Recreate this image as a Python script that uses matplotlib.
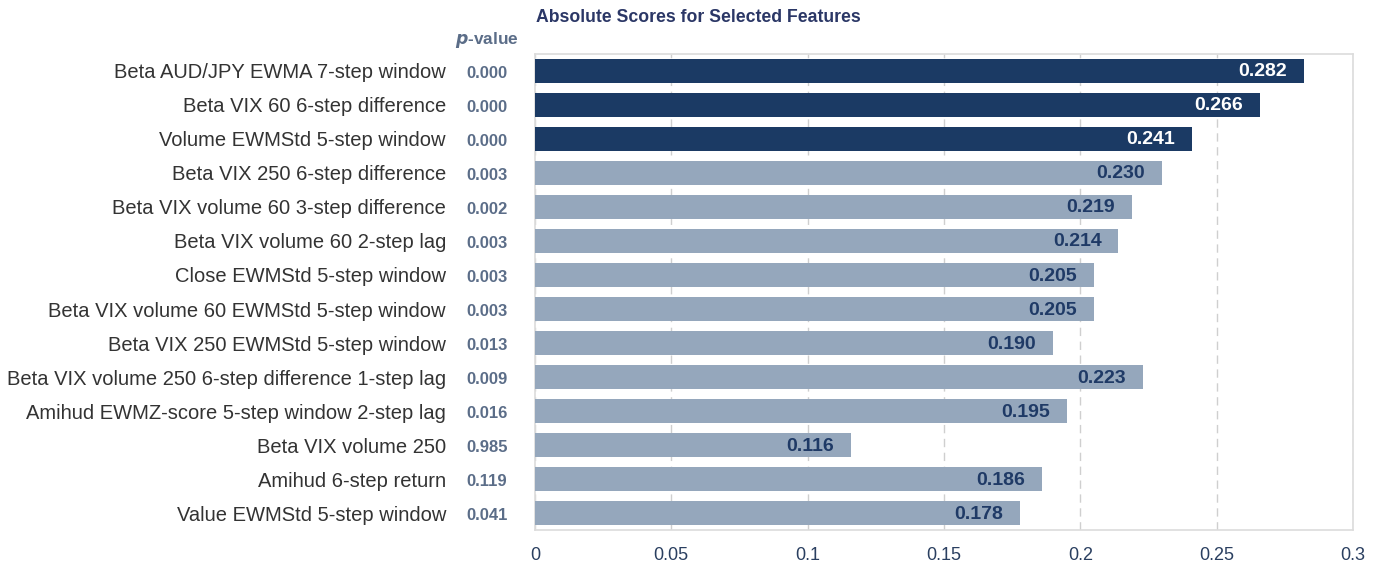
import matplotlib.pyplot as plt

features = [
    "Beta AUD/JPY EWMA 7-step window",
    "Beta VIX 60 6-step difference",
    "Volume EWMStd 5-step window",
    "Beta VIX 250 6-step difference",
    "Beta VIX volume 60 3-step difference",
    "Beta VIX volume 60 2-step lag",
    "Close EWMStd 5-step window",
    "Beta VIX volume 60 EWMStd 5-step window",
    "Beta VIX 250 EWMStd 5-step window",
    "Beta VIX volume 250 6-step difference 1-step lag",
    "Amihud EWMZ-score 5-step window 2-step lag",
    "Beta VIX volume 250",
    "Amihud 6-step return",
    "Value EWMStd 5-step window",
]
scores = [0.282, 0.266, 0.241, 0.230, 0.219, 0.214, 0.205, 0.205, 0.190,
          0.223, 0.195, 0.116, 0.186, 0.178]
pvalues = ["0.000", "0.000", "0.000", "0.003", "0.002", "0.003", "0.003",
           "0.003", "0.013", "0.009", "0.016", "0.985", "0.119", "0.041"]
xticks = [0, 0.05, 0.1, 0.15, 0.2, 0.25, 0.3]
xticklabels = ["0", "0.05", "0.1", "0.15", "0.2", "0.25", "0.3"]

dark = "#1b3a64"
light = "#95a7bc"
n_top = 3

plt.rcParams['font.family'] = ['Liberation Sans', 'DejaVu Sans']

fig = plt.figure(figsize=(13.82, 5.67), dpi=100)
ax = fig.add_axes([0.387, 0.065, 0.592, 0.84])

ypos = list(range(len(features)))
colors = [dark if i < n_top else light for i in ypos]
ax.barh(ypos, scores, height=0.7, color=colors, zorder=3)
ax.set_ylim(len(features) - 0.5, -0.5)
ax.set_xlim(0, 0.3)

for i, v in enumerate(scores):
    ax.text(v - 0.0062, i + 0.03, f"{v:.3f}", ha="right", va="center",
            fontsize=14, fontweight="bold",
            color="white" if i < n_top else "#1f3a66", zorder=4)

ax.set_yticks(ypos)
ax.set_yticklabels(features, fontsize=14.5, color="#333333")
ax.tick_params(axis="y", length=0, pad=64)
ax.set_xticks(xticks)
ax.set_xticklabels(xticklabels, fontsize=13, color="#2a3f60",
                   family=['Liberation Sans Narrow', 'Liberation Sans'])
ax.tick_params(axis="x", length=0, pad=12)

# p-value column
for i, p in enumerate(pvalues):
    ax.text(-0.0175, i + 0.08, p, ha="center", va="center", fontsize=12,
            fontweight="bold", color="#5b6d88", clip_on=False)
ax.text(-0.0175, -0.9, r"$\bfit{p}$-value", ha="center", va="center",
        fontsize=12.4, fontweight="bold", color="#5b6d88", clip_on=False)

ax.grid(axis="x", color="#cfcfcf", linestyle=(0, (6, 4)), linewidth=1, zorder=0)
for s in ax.spines.values():
    s.set_color("#dcdcdc")
    s.set_linewidth(1.2)

fig.text(0.505, 0.97, "Absolute Scores for Selected Features", ha="center",
         va="center", fontsize=12.7, fontweight="bold", color="#2b3766")

fig.savefig("out.png", dpi=100)
